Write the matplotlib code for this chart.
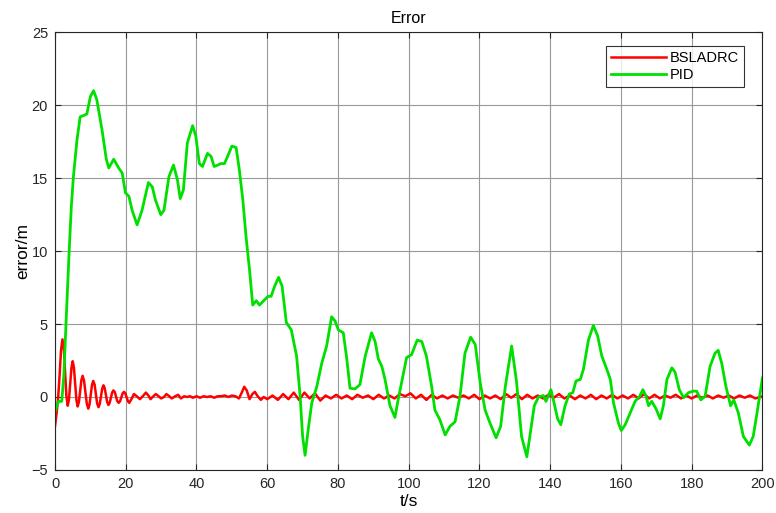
import matplotlib
matplotlib.use("Agg")
import matplotlib.pyplot as plt

plt.rcParams['font.family'] = ['Liberation Sans', 'DejaVu Sans']

# (t, error) points
bsladrc_pts = [(0, -2.0), (0.5, -1.0), (0.9, 0.0), (1.3, 1.5), (1.7, 3.2), (2.1, 3.95),
               (2.5, 3.3), (2.85, 1.7), (3.2, 0.1), (3.6, -0.6),
               (3.95, -0.15), (4.3, 0.9), (4.65, 2.0), (5.0, 2.45),
               (5.35, 2.0), (5.7, 0.9), (6.05, -0.2), (6.4, -0.65),
               (6.75, -0.35), (7.1, 0.4), (7.45, 1.15), (7.8, 1.45),
               (8.2, 1.12), (8.6, 0.33), (9.0, -0.47), (9.4, -0.8),
               (9.75, -0.52), (10.1, 0.15), (10.45, 0.82), (10.8, 1.1),
               (11.2, 0.84), (11.55, 0.2), (11.9, -0.44), (12.3, -0.7),
               (12.65, -0.48), (13.0, 0.05), (13.35, 0.58), (13.7, 0.8),
               (14.05, 0.6), (14.4, 0.12), (14.75, -0.35), (15.1, -0.55),
               (15.45, -0.4), (15.8, -0.05), (16.15, 0.3), (16.5, 0.45),
               (16.9, 0.33), (17.25, 0.02), (17.6, -0.28), (18.0, -0.4),
               (18.4, -0.29), (18.75, -0.02), (19.1, 0.24), (19.5, 0.35),
               (19.9, 0.24), (20.25, -0.02), (20.6, -0.29), (21.0, -0.4),
               (21.7, -0.1), (22.3, 0.2), (23.1, 0.05),
               (24.0, -0.15), (24.8, 0.05), (25.7, 0.3), (26.4, 0.1), (27.0, -0.15), (27.8, 0.05),
               (28.5, 0.2), (29.3, 0.05), (30.0, -0.1), (30.8, 0.0), (31.5, 0.2), (32.3, 0.05),
               (33.0, -0.1), (34.0, 0.05), (34.8, 0.15), (35.6, -0.1), (36.5, 0.05), (37.3, 0.0),
               (38.2, 0.05), (39, -0.05), (40, 0.05), (41, -0.05), (42, 0.05), (43, 0.0), (44, 0.05),
               (45, -0.05), (46, 0.05), (47, 0.05), (48, 0.1), (49, 0.0), (50, 0.1), (51, 0.05),
               (52, -0.1), (52.8, 0.3), (53.5, 0.7), (54.2, 0.45), (55, -0.15), (55.8, 0.2), (56.5, 0.35),
               (57.3, 0.05), (58.2, -0.2), (59, 0.0),
               (60, -0.15), (61.5, 0.1), (63, -0.2), (64.5, 0.2), (66, -0.15), (67.5, 0.3), (69, -0.2),
               (70.5, 0.3), (72, -0.1), (73.5, 0.25), (75, -0.25), (76.5, 0.1), (78, -0.1), (79.5, 0.15),
               (81, -0.1), (82.5, 0.1), (84, -0.15), (85.5, 0.15), (87, -0.05), (88.5, 0.1), (90, -0.15),
               (91.5, 0.15), (93, -0.1), (94.5, 0.1), (96, -0.1), (97.5, 0.2), (99, 0.05), (100.5, 0.25),
               (102, -0.1), (103.5, 0.15), (105, -0.2), (106.5, 0.15), (108, -0.1), (109.5, 0.1),
               (111, -0.1), (112.5, 0.1), (114, -0.05), (115.5, 0.1), (117, -0.1), (118.5, 0.15),
               (120, -0.15), (121.5, 0.1), (123, -0.1), (124.5, 0.1), (126, -0.15), (127.5, 0.2),
               (129, -0.05), (130.5, 0.2), (132, -0.15), (133.5, 0.15), (135, -0.1), (136.5, 0.1),
               (138, -0.1), (139.5, 0.15), (141, -0.05), (142.5, 0.2), (144, -0.1), (145.5, 0.1),
               (147, -0.15), (148.5, 0.1), (150, -0.1), (151.5, 0.15), (153, -0.15), (154.5, 0.1),
               (156, -0.1), (157.5, 0.15), (159, -0.1), (160.5, 0.1), (162, -0.1), (163.5, 0.15),
               (165, -0.1), (166.5, 0.2), (168, -0.1), (169.5, 0.15), (171, -0.1), (172.5, 0.1),
               (174, -0.05), (175.5, 0.15), (177, -0.1), (178.5, 0.1), (180, -0.1), (181.5, 0.1),
               (183, -0.05), (184.5, 0.1), (186, -0.1), (187.5, 0.1), (189, -0.05), (190.5, 0.1),
               (192, -0.1), (193.5, 0.1), (195, -0.05), (196.5, 0.1), (198, -0.1), (200, 0.05)]

pid_pts = [(0, -1.0), (1.0, -0.3), (1.9, -0.3), (2.5, 1.5), (3.1, 5.0), (4.0, 10.0), (4.6, 13.0),
           (5.2, 15.1), (6.2, 17.6), (7.1, 19.2), (8.1, 19.3), (9.0, 19.4), (10.0, 20.6), (10.9, 21.0),
           (11.8, 20.4), (13.3, 18.3), (14.5, 16.3), (15.2, 15.7), (16.6, 16.3), (18.0, 15.7),
           (19.0, 15.35), (19.9, 14.0), (20.9, 13.75), (21.8, 12.8), (23.2, 11.8), (24.6, 12.8),
           (26.4, 14.7), (27.5, 14.4), (28.4, 13.5), (29.9, 12.5), (30.8, 12.8), (32.2, 15.1),
           (33.5, 15.9), (34.6, 14.9), (35.4, 13.6), (36.3, 14.2), (37.4, 17.4), (38.9, 18.6),
           (39.8, 17.9), (40.8, 16.0), (41.7, 15.8), (43.1, 16.7), (44.1, 16.5), (45.0, 15.8),
           (46.0, 15.9), (46.9, 16.0), (47.9, 16.0), (48.8, 16.5), (50.0, 17.2), (51.2, 17.1),
           (52.1, 15.6), (53.1, 13.5), (54.0, 11.0), (55.0, 8.7), (55.9, 6.3), (56.9, 6.6), (57.8, 6.3),
           (59.0, 6.6), (60.2, 6.9), (61.1, 6.9), (62.1, 7.6), (63.2, 8.2), (64.2, 7.6), (65.4, 5.1),
           (66.8, 4.6), (68.3, 2.8), (69.3, 0.05), (70.0, -2.7), (70.7, -4.0), (71.6, -2.2),
           (72.6, -0.4), (74.0, 0.7), (75.4, 2.3), (76.8, 3.5), (78.2, 5.5), (79.2, 5.2), (80.1, 4.6),
           (81.5, 4.4), (82.5, 2.6), (83.4, 0.6), (84.8, 0.55), (86.2, 0.85), (87.7, 2.8), (89.5, 4.4),
           (90.5, 3.8), (91.4, 2.6), (92.4, 2.1), (93.3, 1.2), (94.7, -0.6), (96.1, -1.4), (97.0, -0.2),
           (98.5, 1.6), (99.4, 2.7), (100.8, 2.9), (102.4, 3.9), (103.7, 3.8), (105.0, 2.8),
           (106.5, 0.7), (107.4, -0.9), (108.8, -1.55), (110.3, -2.6), (111.7, -2.0), (113.1, -1.7),
           (114.5, 0.05), (115.9, 3.0), (117.5, 4.1), (118.8, 3.6), (120.2, 1.0), (121.6, -0.9),
           (123.0, -1.8), (124.7, -2.8), (126.0, -2.0), (127.3, 0.7), (129.1, 3.5), (130.5, 1.0),
           (131.9, -2.7), (133.4, -4.1), (134.8, -1.8), (135.5, -0.6), (136.7, 0.0), (138.1, 0.1),
           (138.8, -0.3), (139.5, 0.1), (140.2, 0.5), (140.9, -0.2), (142.1, -1.5), (143.0, -1.9),
           (144.2, -0.6), (145.4, 0.2), (146.4, 0.3), (147.3, 1.1), (148.5, 1.2), (149.4, 1.9),
           (150.8, 3.9), (152.2, 4.9), (153.4, 4.2), (154.6, 2.8), (156.0, 1.9), (157.0, 1.2),
           (157.9, -0.4), (159.3, -1.8), (160.1, -2.3), (161.2, -1.9), (162.6, -1.1), (164.0, -0.3),
           (165.3, 0.05), (166.2, 0.5), (167.1, 0.05), (167.8, -0.6), (168.7, -0.3), (169.9, -0.8),
           (171.1, -1.5), (172.0, -0.6), (173.0, 1.2), (174.4, 2.0), (175.3, 1.7), (176.5, 0.5),
           (177.7, -0.05), (179.1, 0.3), (180.5, 0.4), (181.4, 0.4), (182.6, -0.2), (183.8, 0.05),
           (185.2, 2.1), (186.6, 3.0), (187.5, 3.2), (188.5, 2.3), (189.7, 0.7), (191.0, -0.6),
           (191.9, -0.2), (193.2, -1.1), (194.6, -2.7), (196.3, -3.3), (197.4, -2.7), (198.6, -0.9),
           (200.0, 1.3)]

x_ticks = [0, 20, 40, 60, 80, 100, 120, 140, 160, 180, 200]
y_ticks = [-5, 0, 5, 10, 15, 20, 25]

t_b, e_b = zip(*bsladrc_pts)
t_p, e_p = zip(*pid_pts)

fig = plt.figure(figsize=(7.76, 5.13), dpi=100)
ax = fig.add_axes([0.0709, 0.0840, 0.9116, 0.8530])

ax.plot(t_b, e_b, color='#ff0000', lw=1.8, label='BSLADRC', solid_joinstyle='round')
ax.plot(t_p, e_p, color='#00e000', lw=2.0, label='PID', solid_joinstyle='round')

ax.set_xlim(0, 200)
ax.set_ylim(-5, 25)
ax.set_xticks(x_ticks)
ax.set_yticks(y_ticks)
ax.grid(True, color='0.6', lw=0.8)
ax.set_axisbelow(True)
ax.tick_params(direction='in', top=True, right=True, labelsize=10.5, colors='0.15', length=4, pad=5)
for s in ax.spines.values():
    s.set_color('0.15')
    s.set_linewidth(0.8)

ax.set_title('Error', fontsize=11.5, pad=7)
ax.set_xlabel('t/s', fontsize=12.5, labelpad=2)
ax.set_ylabel('error/m', fontsize=12.5, labelpad=1)

leg = ax.legend(loc='upper right', bbox_to_anchor=(0.974, 0.968), borderaxespad=0,
                fancybox=False, edgecolor='black', fontsize=10.5, handlelength=3.8,
                borderpad=0.35, labelspacing=0.2, handletextpad=0.25)
leg.get_frame().set_linewidth(0.8)

fig.savefig('out.png', dpi=100)
